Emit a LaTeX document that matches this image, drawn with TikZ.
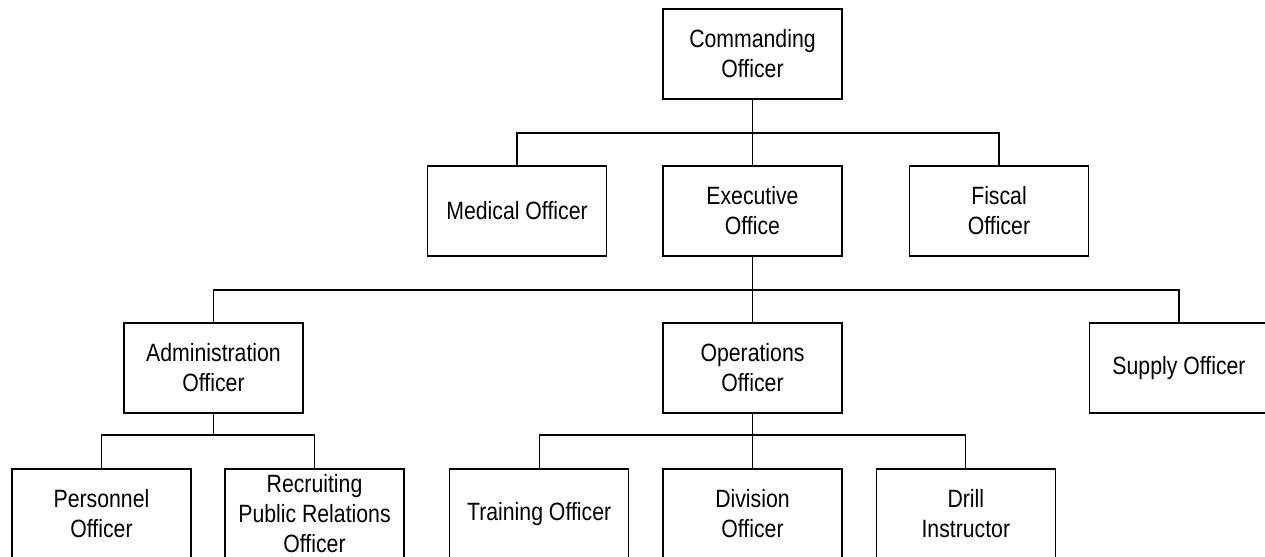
\documentclass[tikz,border=0pt]{standalone}
\usepackage{fontspec}
\setmainfont[FakeStretch=0.85]{Liberation Sans}
\usetikzlibrary{positioning}
\begin{document}
\begin{tikzpicture}[officebox/.style={draw, rectangle, line width=0.9pt, minimum width=134.25pt, minimum height=67.5pt, inner sep=0pt, align=center, font=\fontsize{18.75}{22.5}\selectfont}, link/.style={line width=0.8pt}]
\clip (-564.4pt,40.5pt) rectangle (384.4pt,-377.25pt);
\node (commanding)[officebox]{Commanding\\Officer};
\coordinate[below of=commanding, node distance=59.25pt] (cobus);
\node (executive)[officebox, below of=commanding, node distance=117.75pt]{Executive\\Office};
\node (medical)[officebox, left of=executive, node distance=176.6pt]{Medical Officer};
\node (fiscal)[officebox, right of=executive, node distance=184.9pt]{Fiscal\\Officer};
\coordinate[below of=executive, node distance=59.25pt] (exbus);
\node (operations)[officebox, below of=executive, node distance=117.75pt]{Operations\\Officer};
\node (admin)[officebox, left of=operations, node distance=404.25pt]{Administration\\Officer};
\node (supply)[officebox, right of=operations, node distance=319.9pt]{Supply Officer};
% admin branch
\coordinate[below of=admin, node distance=50.25pt] (adbus);
\coordinate[below of=adbus, node distance=59.25pt] (adrow);
\node (personnel)[officebox, left of=adrow, node distance=84pt]{Personnel\\Officer};
\node (recruiting)[officebox, right of=adrow, node distance=75.75pt]{Recruiting\\Public Relations\\Officer};
% operations branch
\coordinate[below of=operations, node distance=50.25pt] (opbus);
\node (division)[officebox, below of=operations, node distance=109.5pt]{Division\\Officer};
\node (training)[officebox, left of=division, node distance=160pt]{Training Officer};
\node (drill)[officebox, right of=division, node distance=160pt]{Drill\\Instructor};
\draw [link](commanding)--(executive);
\draw [link](medical.north) |- (cobus) -| (fiscal.north);
\draw [link](executive)--(operations);
\draw [link](admin.north) |- (exbus) -| (supply.north);
\draw [link](admin)--(adbus);
\draw [link](personnel.north) |- (adbus) -| (recruiting.north);
\draw [link](operations)--(division);
\draw [link](training.north) |- (opbus) -| (drill.north);
\end{tikzpicture}
\end{document}
